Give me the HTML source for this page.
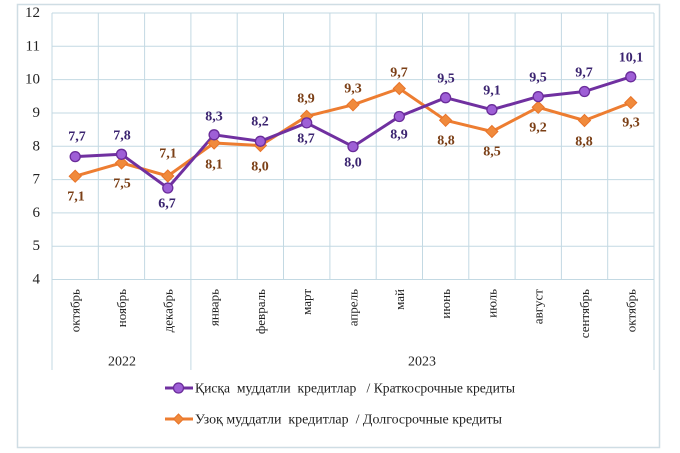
<!DOCTYPE html>
<html><head><meta charset="utf-8"><style>
html,body{margin:0;padding:0;background:#fff;}
svg{display:block;}
</style></head><body>
<svg width="680" height="453" viewBox="0 0 680 453" xmlns="http://www.w3.org/2000/svg" font-family="'Liberation Serif', serif">
<rect x="17.5" y="4.5" width="642" height="443" fill="#fff" stroke="#cfdde4" stroke-width="1.5"/>
<g stroke="#c3d9e3" stroke-width="1">
<line x1="52" y1="13" x2="654" y2="13"/>
<line x1="52" y1="46.3" x2="654" y2="46.3"/>
<line x1="52" y1="79.6" x2="654" y2="79.6"/>
<line x1="52" y1="113" x2="654" y2="113"/>
<line x1="52" y1="146.3" x2="654" y2="146.3"/>
<line x1="52" y1="179.6" x2="654" y2="179.6"/>
<line x1="52" y1="212.9" x2="654" y2="212.9"/>
<line x1="52" y1="246.2" x2="654" y2="246.2"/>
<line x1="52" y1="279.5" x2="654" y2="279.5"/>
<line x1="52" y1="13" x2="52" y2="370"/>
<line x1="98.3" y1="13" x2="98.3" y2="279.5"/>
<line x1="144.6" y1="13" x2="144.6" y2="279.5"/>
<line x1="190.9" y1="13" x2="190.9" y2="370"/>
<line x1="237.2" y1="13" x2="237.2" y2="279.5"/>
<line x1="283.5" y1="13" x2="283.5" y2="279.5"/>
<line x1="329.9" y1="13" x2="329.9" y2="279.5"/>
<line x1="376.2" y1="13" x2="376.2" y2="279.5"/>
<line x1="422.5" y1="13" x2="422.5" y2="279.5"/>
<line x1="468.8" y1="13" x2="468.8" y2="279.5"/>
<line x1="515.1" y1="13" x2="515.1" y2="279.5"/>
<line x1="561.4" y1="13" x2="561.4" y2="279.5"/>
<line x1="607.7" y1="13" x2="607.7" y2="279.5"/>
<line x1="654" y1="13" x2="654" y2="370"/>
</g>
<g font-size="15" fill="#222" text-anchor="end" dominant-baseline="central">
<text x="40" y="13">12</text>
<text x="40" y="46.3">11</text>
<text x="40" y="79.6">10</text>
<text x="40" y="113">9</text>
<text x="40" y="146.3">8</text>
<text x="40" y="179.6">7</text>
<text x="40" y="212.9">6</text>
<text x="40" y="246.2">5</text>
<text x="40" y="279.5">4</text>
</g>
<g font-size="13" fill="#222" text-anchor="end" dominant-baseline="central">
<text transform="translate(75.2,289) rotate(-90)">октябрь</text>
<text transform="translate(121.5,289) rotate(-90)">ноябрь</text>
<text transform="translate(167.8,289) rotate(-90)">декабрь</text>
<text transform="translate(214.1,289) rotate(-90)">январь</text>
<text transform="translate(260.4,289) rotate(-90)">февраль</text>
<text transform="translate(306.7,289) rotate(-90)">март</text>
<text transform="translate(353,289) rotate(-90)">апрель</text>
<text transform="translate(399.3,289) rotate(-90)">май</text>
<text transform="translate(445.6,289) rotate(-90)">июнь</text>
<text transform="translate(491.9,289) rotate(-90)">июль</text>
<text transform="translate(538.2,289) rotate(-90)">август</text>
<text transform="translate(584.5,289) rotate(-90)">сентябрь</text>
<text transform="translate(630.8,289) rotate(-90)">октябрь</text>
</g>
<g font-size="14" fill="#222" text-anchor="middle" dominant-baseline="central">
<text x="122" y="362">2022</text>
<text x="422" y="362">2023</text>
</g>
<polyline fill="none" stroke="#ed7d31" stroke-width="3" stroke-linejoin="round" points="75.2,176.2 121.5,162.9 167.8,176 214.1,143 260.4,145.5 306.7,116.3 353,104.8 399.3,88.5 445.6,120.3 491.9,131.5 538.2,107.3 584.5,120.5 630.8,102.6"/>
<polyline fill="none" stroke="#7030a0" stroke-width="3" stroke-linejoin="round" points="75.2,156.6 121.5,154.3 167.8,188 214.1,134.8 260.4,141.3 306.7,122.9 353,146.6 399.3,116.5 445.6,97.7 491.9,109.7 538.2,96.6 584.5,91.5 630.8,76.8"/>
<g fill="#f08a3c" stroke="#e8742a" stroke-width="1">
<path d="M75.2 170.2 L81.2 176.2 L75.2 182.2 L69.2 176.2Z"/>
<path d="M121.5 156.9 L127.5 162.9 L121.5 168.9 L115.5 162.9Z"/>
<path d="M167.8 170 L173.8 176 L167.8 182 L161.8 176Z"/>
<path d="M214.1 137 L220.1 143 L214.1 149 L208.1 143Z"/>
<path d="M260.4 139.5 L266.4 145.5 L260.4 151.5 L254.4 145.5Z"/>
<path d="M306.7 110.3 L312.7 116.3 L306.7 122.3 L300.7 116.3Z"/>
<path d="M353 98.8 L359 104.8 L353 110.8 L347 104.8Z"/>
<path d="M399.3 82.5 L405.3 88.5 L399.3 94.5 L393.3 88.5Z"/>
<path d="M445.6 114.3 L451.6 120.3 L445.6 126.3 L439.6 120.3Z"/>
<path d="M491.9 125.5 L497.9 131.5 L491.9 137.5 L485.9 131.5Z"/>
<path d="M538.2 101.3 L544.2 107.3 L538.2 113.3 L532.2 107.3Z"/>
<path d="M584.5 114.5 L590.5 120.5 L584.5 126.5 L578.5 120.5Z"/>
<path d="M630.8 96.6 L636.8 102.6 L630.8 108.6 L624.8 102.6Z"/>
</g>
<g fill="#9e5fd6" stroke="#6a2c9a" stroke-width="1.3">
<circle cx="75.2" cy="156.6" r="5"/>
<circle cx="121.5" cy="154.3" r="5"/>
<circle cx="167.8" cy="188" r="5"/>
<circle cx="214.1" cy="134.8" r="5"/>
<circle cx="260.4" cy="141.3" r="5"/>
<circle cx="306.7" cy="122.9" r="5"/>
<circle cx="353" cy="146.6" r="5"/>
<circle cx="399.3" cy="116.5" r="5"/>
<circle cx="445.6" cy="97.7" r="5"/>
<circle cx="491.9" cy="109.7" r="5"/>
<circle cx="538.2" cy="96.6" r="5"/>
<circle cx="584.5" cy="91.5" r="5"/>
<circle cx="630.8" cy="76.8" r="5"/>
</g>
<g font-size="14" font-weight="bold" fill="#3b2470" text-anchor="middle" dominant-baseline="central">
<text x="77" y="137">7,7</text>
<text x="122" y="136">7,8</text>
<text x="167" y="204">6,7</text>
<text x="214" y="117">8,3</text>
<text x="260" y="122">8,2</text>
<text x="306" y="139">8,7</text>
<text x="353" y="163">8,0</text>
<text x="399" y="135">8,9</text>
<text x="446" y="79">9,5</text>
<text x="492" y="91">9,1</text>
<text x="538" y="78">9,5</text>
<text x="584" y="73">9,7</text>
<text x="631" y="58">10,1</text>
</g>
<g font-size="14" font-weight="bold" fill="#7b3f16" text-anchor="middle" dominant-baseline="central">
<text x="76" y="197">7,1</text>
<text x="122" y="184">7,5</text>
<text x="168" y="154">7,1</text>
<text x="214" y="165">8,1</text>
<text x="260" y="167">8,0</text>
<text x="306" y="99">8,9</text>
<text x="353" y="89">9,3</text>
<text x="399" y="73">9,7</text>
<text x="446" y="141">8,8</text>
<text x="492" y="152">8,5</text>
<text x="538" y="128">9,2</text>
<text x="584" y="142">8,8</text>
<text x="631" y="123">9,3</text>
</g>
<line x1="165" y1="388" x2="193" y2="388" stroke="#7030a0" stroke-width="3"/>
<circle cx="178.5" cy="388" r="5" fill="#9e5fd6" stroke="#6a2c9a" stroke-width="1.3"/>
<line x1="165" y1="419" x2="193" y2="419" stroke="#ed7d31" stroke-width="3"/>
<path d="M178.5 414 L183.5 419 L178.5 424 L173.5 419Z" fill="#f08a3c" stroke="#e8742a" stroke-width="1"/>
<g font-size="13.5" fill="#222" dominant-baseline="central">
<text x="195" y="388" textLength="320" lengthAdjust="spacingAndGlyphs" xml:space="preserve">Қисқа  муддатли  кредитлар   / Краткосрочные кредиты</text>
<text x="195" y="419" textLength="307" lengthAdjust="spacingAndGlyphs" xml:space="preserve">Узоқ муддатли  кредитлар  / Долгосрочные кредиты</text>
</g>
</svg>
</body></html>
